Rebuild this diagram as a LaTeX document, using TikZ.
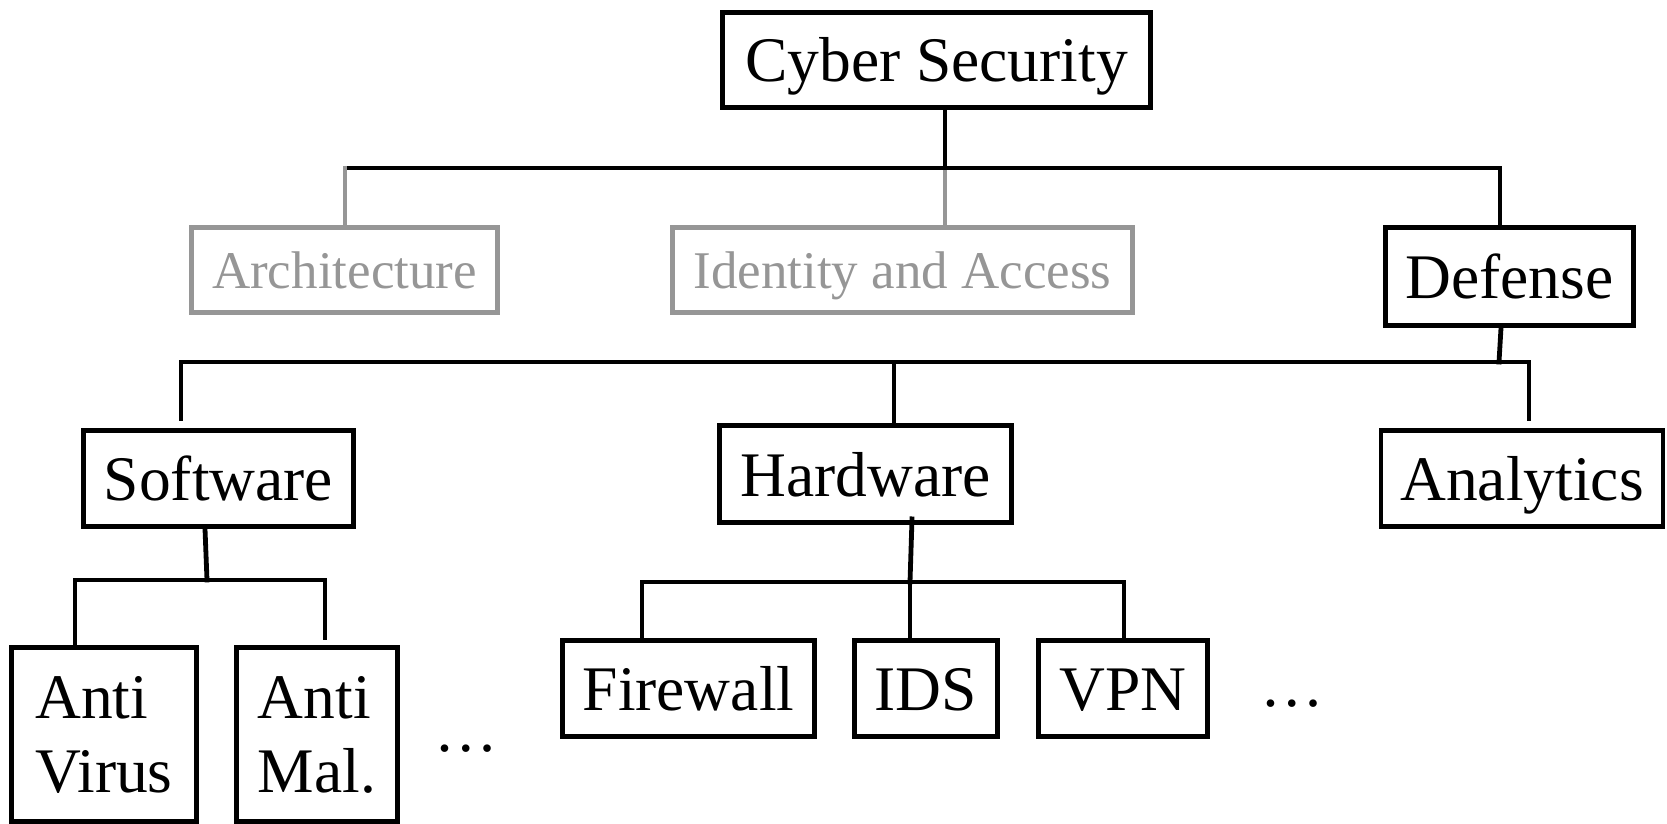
\documentclass[tikz,border=0pt]{standalone}
\usepackage{fontspec}
\setmainfont{Liberation Serif}
\definecolor{dimgray}{RGB}{150,150,150}
\tikzset{
  box/.style={draw, line width=4.8pt, inner sep=0pt, text height=44pt, text depth=0pt,
    font=\fontsize{63.5pt}{76pt}\selectfont},
  graybox/.style={box, draw=dimgray, text=dimgray, text height=37pt,
    font=\fontsize{53pt}{64pt}\selectfont},
  conn/.style={line width=4.8pt, line cap=rect},
  grayconn/.style={conn, draw=dimgray},
  dotsnode/.style={inner sep=0pt, anchor=base, font=\fontsize{63.5pt}{76pt}\selectfont},
}
\begin{document}
\begin{tikzpicture}[x=1pt,y=-1pt]
\useasboundingbox (0,0) rectangle (1667,824);

% nodes
\node[box, minimum width=428pt, minimum height=95pt] (cs) at (936.5,60) {Cyber Security};
\node[graybox, minimum width=306pt, minimum height=85pt] (arch) at (344.5,270) {Architecture};
\node[graybox, minimum width=460pt, minimum height=85pt] (ident) at (902.5,270) {Identity and Access};
\node[box, minimum width=248pt, minimum height=98pt] (def) at (1509.5,276.5) {Defense};
\node[box, minimum width=270pt, minimum height=96pt] (sw) at (218.5,478.5) {Software};
\node[box, minimum width=292pt, minimum height=97pt] (hw) at (865.5,474) {Hardware};
\node[box, minimum width=282pt, minimum height=96pt] (an) at (1522,478.5) {Analytics};
\node[box, text height=115pt, minimum width=185pt, minimum height=174pt] (av) at (104,734.5)
  {\vbox{\baselineskip=74pt\hbox{Anti}\hbox{Virus}}};
\node[box, text height=115pt, minimum width=161pt, minimum height=174pt] (am) at (317,734.5)
  {\vbox{\baselineskip=74pt\hbox{Anti}\hbox{Mal.}}};
\node[box, minimum width=252pt, minimum height=96pt] (fw) at (688.5,688.5) {Firewall};
\node[box, minimum width=143pt, minimum height=96pt] (ids) at (926,688.5) {IDS};
\node[box, minimum width=169pt, minimum height=96pt] (vpn) at (1123,688.5) {VPN};
\node[dotsnode] (dotsa) at (466,751) {\dots};
\node[dotsnode] (dotsb) at (1292,706) {\dots};

% junction coordinates
\coordinate (b1l) at (345,168);
\coordinate (b1c) at (945,168);
\coordinate (b1r) at (1500,168);
\coordinate (b2l) at (181,362);
\coordinate (b2c) at (894,362);
\coordinate (b2r) at (1529,362);
\coordinate (b2d) at (1499,362);
\coordinate (swt) at (181,419);
\coordinate (ant) at (1529,419);
\coordinate (b3l) at (75,580);
\coordinate (b3r) at (325,580);
\coordinate (b3s) at (207,580);
\coordinate (amt) at (325,638);
\coordinate (b4l) at (642,582);
\coordinate (b4c) at (910,582);
\coordinate (b4r) at (1124,582);

% level 1
\draw[grayconn] (b1c) -- (b1c |- ident.north);
\draw[conn] (cs.south -| b1c) -- (b1c);
\draw[conn] (b1l) -- (b1r) -- (b1r |- def.north);
\draw[grayconn] (b1l) -- (b1l |- arch.north);

% level 2
\draw[conn] ([xshift=-8.5pt]def.south) -- (b2d);
\draw[conn] (swt) -- (b2l) -- (b2r) -- (ant);
\draw[conn] (b2c) -- (b2c |- hw.north);

% software children
\draw[conn] ([xshift=-13.5pt]sw.south) -- (b3s);
\draw[conn] (b3l |- av.north) -- (b3l) -- (b3r) -- (amt);

% hardware children
\draw[conn] ([xshift=46.5pt,yshift=6pt]hw.south) -- (b4c);
\draw[conn] (b4l |- fw.north) -- (b4l) -- (b4r) -- (b4r |- vpn.north);
\draw[conn] (b4c) -- (b4c |- ids.north);
\end{tikzpicture}
\end{document}
